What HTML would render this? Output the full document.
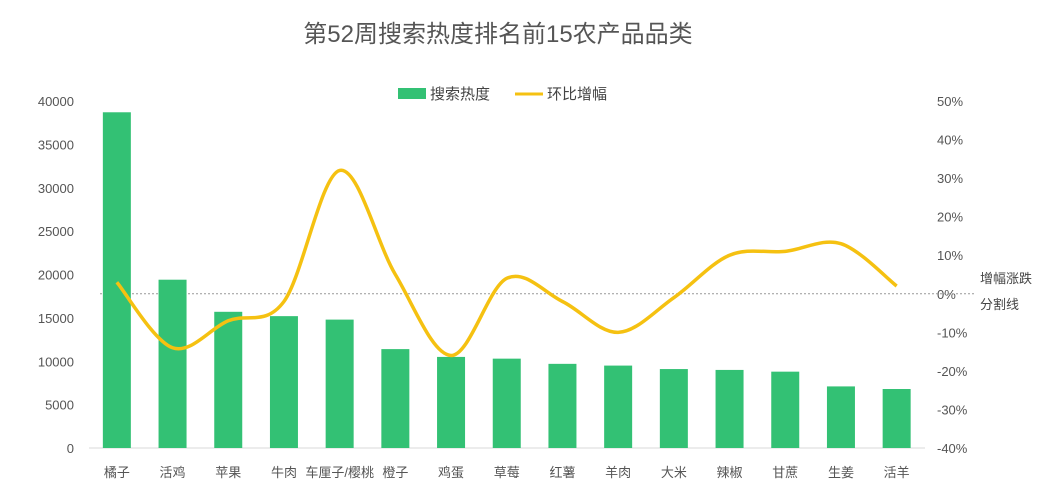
<!DOCTYPE html>
<html><head><meta charset="utf-8"><style>
body{margin:0;background:#fff;width:1057px;height:499px;overflow:hidden}
svg text{font-family:"Liberation Sans","Noto Sans CJK SC",sans-serif}
</style></head><body>
<svg id="c" width="1057" height="499">
<text x="498" y="42" text-anchor="middle" font-size="24" fill="#555">第52周搜索热度排名前15农产品品类</text>
<g>
<rect x="398" y="88" width="28" height="11" fill="#33c174"/>
<text x="430" y="99" font-size="15" fill="#444">搜索热度</text>
<line x1="515" y1="94" x2="543" y2="94" stroke="#f5c111" stroke-width="3"/>
<text x="547" y="99" font-size="15" fill="#444">环比增幅</text>
</g>
<text x="980" y="283" font-size="13" fill="#444">增幅涨跌</text>
<text x="980" y="309" font-size="13" fill="#444">分割线</text>
</svg>
<script>
const categories=["橘子","活鸡","苹果","牛肉","车厘子/樱桃","橙子","鸡蛋","草莓","红薯","羊肉","大米","辣椒","甘蔗","生姜","活羊"];
const heat=[38700,19400,15700,15200,14800,11400,10500,10300,9700,9500,9100,9000,8800,7100,6800];
const growth=[3,-14,-7,-2,32,5,-16,4,-2,-10,-1,10,11,13,2];
const leftTicks=[0,5000,10000,15000,20000,25000,30000,35000,40000];
const rightTicks=[-40,-30,-20,-10,0,10,20,30,40,50];
const NS="http://www.w3.org/2000/svg",svgEl=document.getElementById('c');
const yTop=101,yBot=448,x0=89,step=55.7;
const yL=v=>yBot-(v/40000)*(yBot-yTop);
const yR=v=>yBot-((v+40)/90)*(yBot-yTop);
const xC=i=>x0+step*(i+0.5);
function mk(t,a){const e=document.createElementNS(NS,t);for(const k in a)e.setAttribute(k,a[k]);svgEl.appendChild(e);return e;}
const ax=mk('line',{x1:89,x2:925,y1:yBot,y2:yBot,stroke:'#d9d9d9'});


leftTicks.forEach(v=>{const t=mk('text',{x:74,y:yL(v)+5,'text-anchor':'end','font-size':13,fill:'#555'});t.textContent=v;

});
rightTicks.forEach(v=>{const t=mk('text',{x:937,y:yR(v)+5,'font-size':13,fill:'#555'});t.textContent=v+'%';

});
const dl=mk('line',{x1:100,x2:975,y1:yR(0),y2:yR(0),stroke:'#999','stroke-dasharray':'2,2','stroke-width':1});


heat.forEach((v,i)=>{const r=mk('rect',{x:xC(i)-14,y:yL(v),width:28,height:yBot-yL(v),fill:'#33c174'});


const t=mk('text',{x:xC(i),y:477,'text-anchor':'middle','font-size':13,fill:'#555'});t.textContent=categories[i];

});
const pts=growth.map((v,i)=>[xC(i),yR(v)]);
let d='M'+pts[0][0]+','+pts[0][1];
for(let i=0;i<pts.length-1;i++){const p0=pts[Math.max(0,i-1)],p1=pts[i],p2=pts[i+1],p3=pts[Math.min(pts.length-1,i+2)];
d+=` C${p1[0]+(p2[0]-p0[0])/6},${p1[1]+(p2[1]-p0[1])/6} ${p2[0]-(p3[0]-p1[0])/6},${p2[1]-(p3[1]-p1[1])/6} ${p2[0]},${p2[1]}`;}
const ln=mk('path',{d:d,fill:'none',stroke:'#f5c111','stroke-width':3.5});


</script>
</body></html>
